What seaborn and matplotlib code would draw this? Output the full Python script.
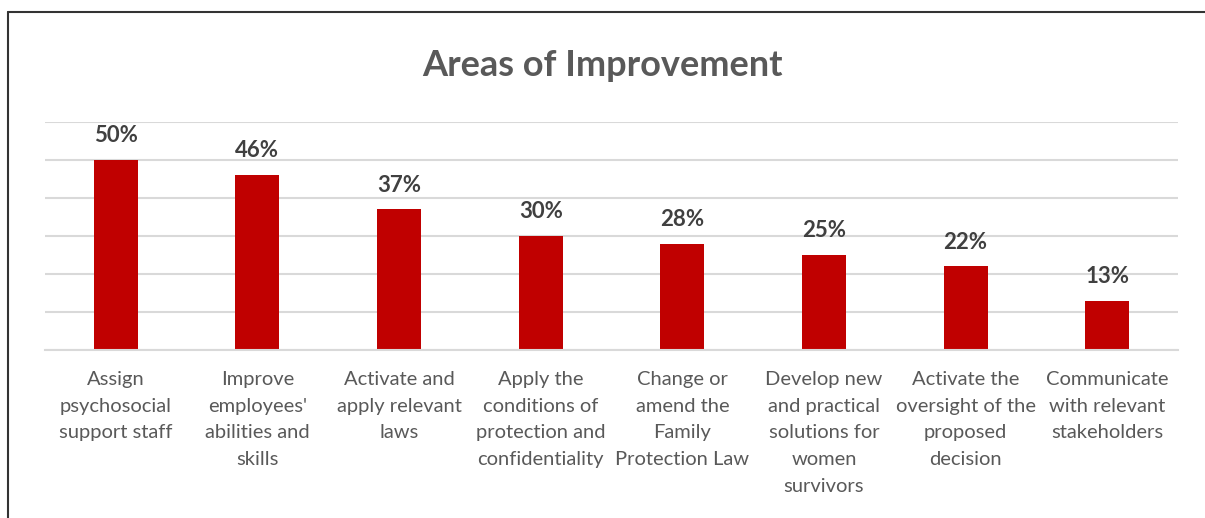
import matplotlib
matplotlib.use("Agg")
import matplotlib.pyplot as plt
import seaborn as sns
import pandas as pd
from matplotlib.lines import Line2D

categories = [
    "Assign\npsychosocial\nsupport staff",
    "Improve\nemployees'\nabilities and\nskills",
    "Activate and\napply relevant\nlaws",
    "Apply the\nconditions of\nprotection and\nconfidentiality",
    "Change or\namend the\nFamily\nProtection Law",
    "Develop new\nand practical\nsolutions for\nwomen\nsurvivors",
    "Activate the\noversight of the\nproposed\ndecision",
    "Communicate\nwith relevant\nstakeholders",
]
values = [50, 46, 37, 30, 28, 25, 22, 13]
labels = ["50%", "46%", "37%", "30%", "28%", "25%", "22%", "13%"]

sns.set_theme(style="white")
plt.rcParams['font.family'] = ['Lato', 'DejaVu Sans']

df = pd.DataFrame({"cat": categories, "val": values})

fig = plt.figure(figsize=(12.05, 5.18), dpi=100)
ax = fig.add_axes([45/1205, 1-350/518, (1178-45)/1205, (350-122)/518])

sns.barplot(data=df, x="cat", y="val", color="#C00000", width=0.31,
            saturation=1, ax=ax, edgecolor="none")

ax.set_ylim(0, 60)
ax.set_yticks(range(0, 61, 10))
ax.yaxis.grid(True, color="#D9D9D9", linewidth=1.5)
ax.set_axisbelow(True)
ax.set_yticklabels([])
ax.tick_params(axis="y", length=0)
ax.tick_params(axis="x", length=0, pad=15, labelsize=14.5, labelcolor="#595959")
for s in ["top", "right", "left"]:
    ax.spines[s].set_visible(False)
ax.spines["bottom"].set_color("#D9D9D9")
ax.spines["bottom"].set_linewidth(1.5)
ax.set_xlabel("")
ax.set_ylabel("")
for t in ax.get_xticklabels():
    t.set_linespacing(1.7)
    t.set_va("top")

for i, (v, lab) in enumerate(zip(values, labels)):
    ax.annotate(lab, (i, v), xytext=(0, 10), textcoords="offset points",
                ha="center", va="bottom", fontsize=16, fontweight="bold",
                color="#404040")

fig.text(0.5, 1-65/518, "Areas of Improvement", ha="center", va="center",
         fontsize=26, fontweight="bold", color="#595959")

# frame lines (top and left)
fig.add_artist(Line2D([8/1205, 1], [1-12/518, 1-12/518], color="#333333", linewidth=1.5,
                      transform=fig.transFigure))
fig.add_artist(Line2D([8/1205, 8/1205], [0, 1-12/518], color="#333333", linewidth=1.5,
                      transform=fig.transFigure))

fig.savefig("out.png", dpi=100)
